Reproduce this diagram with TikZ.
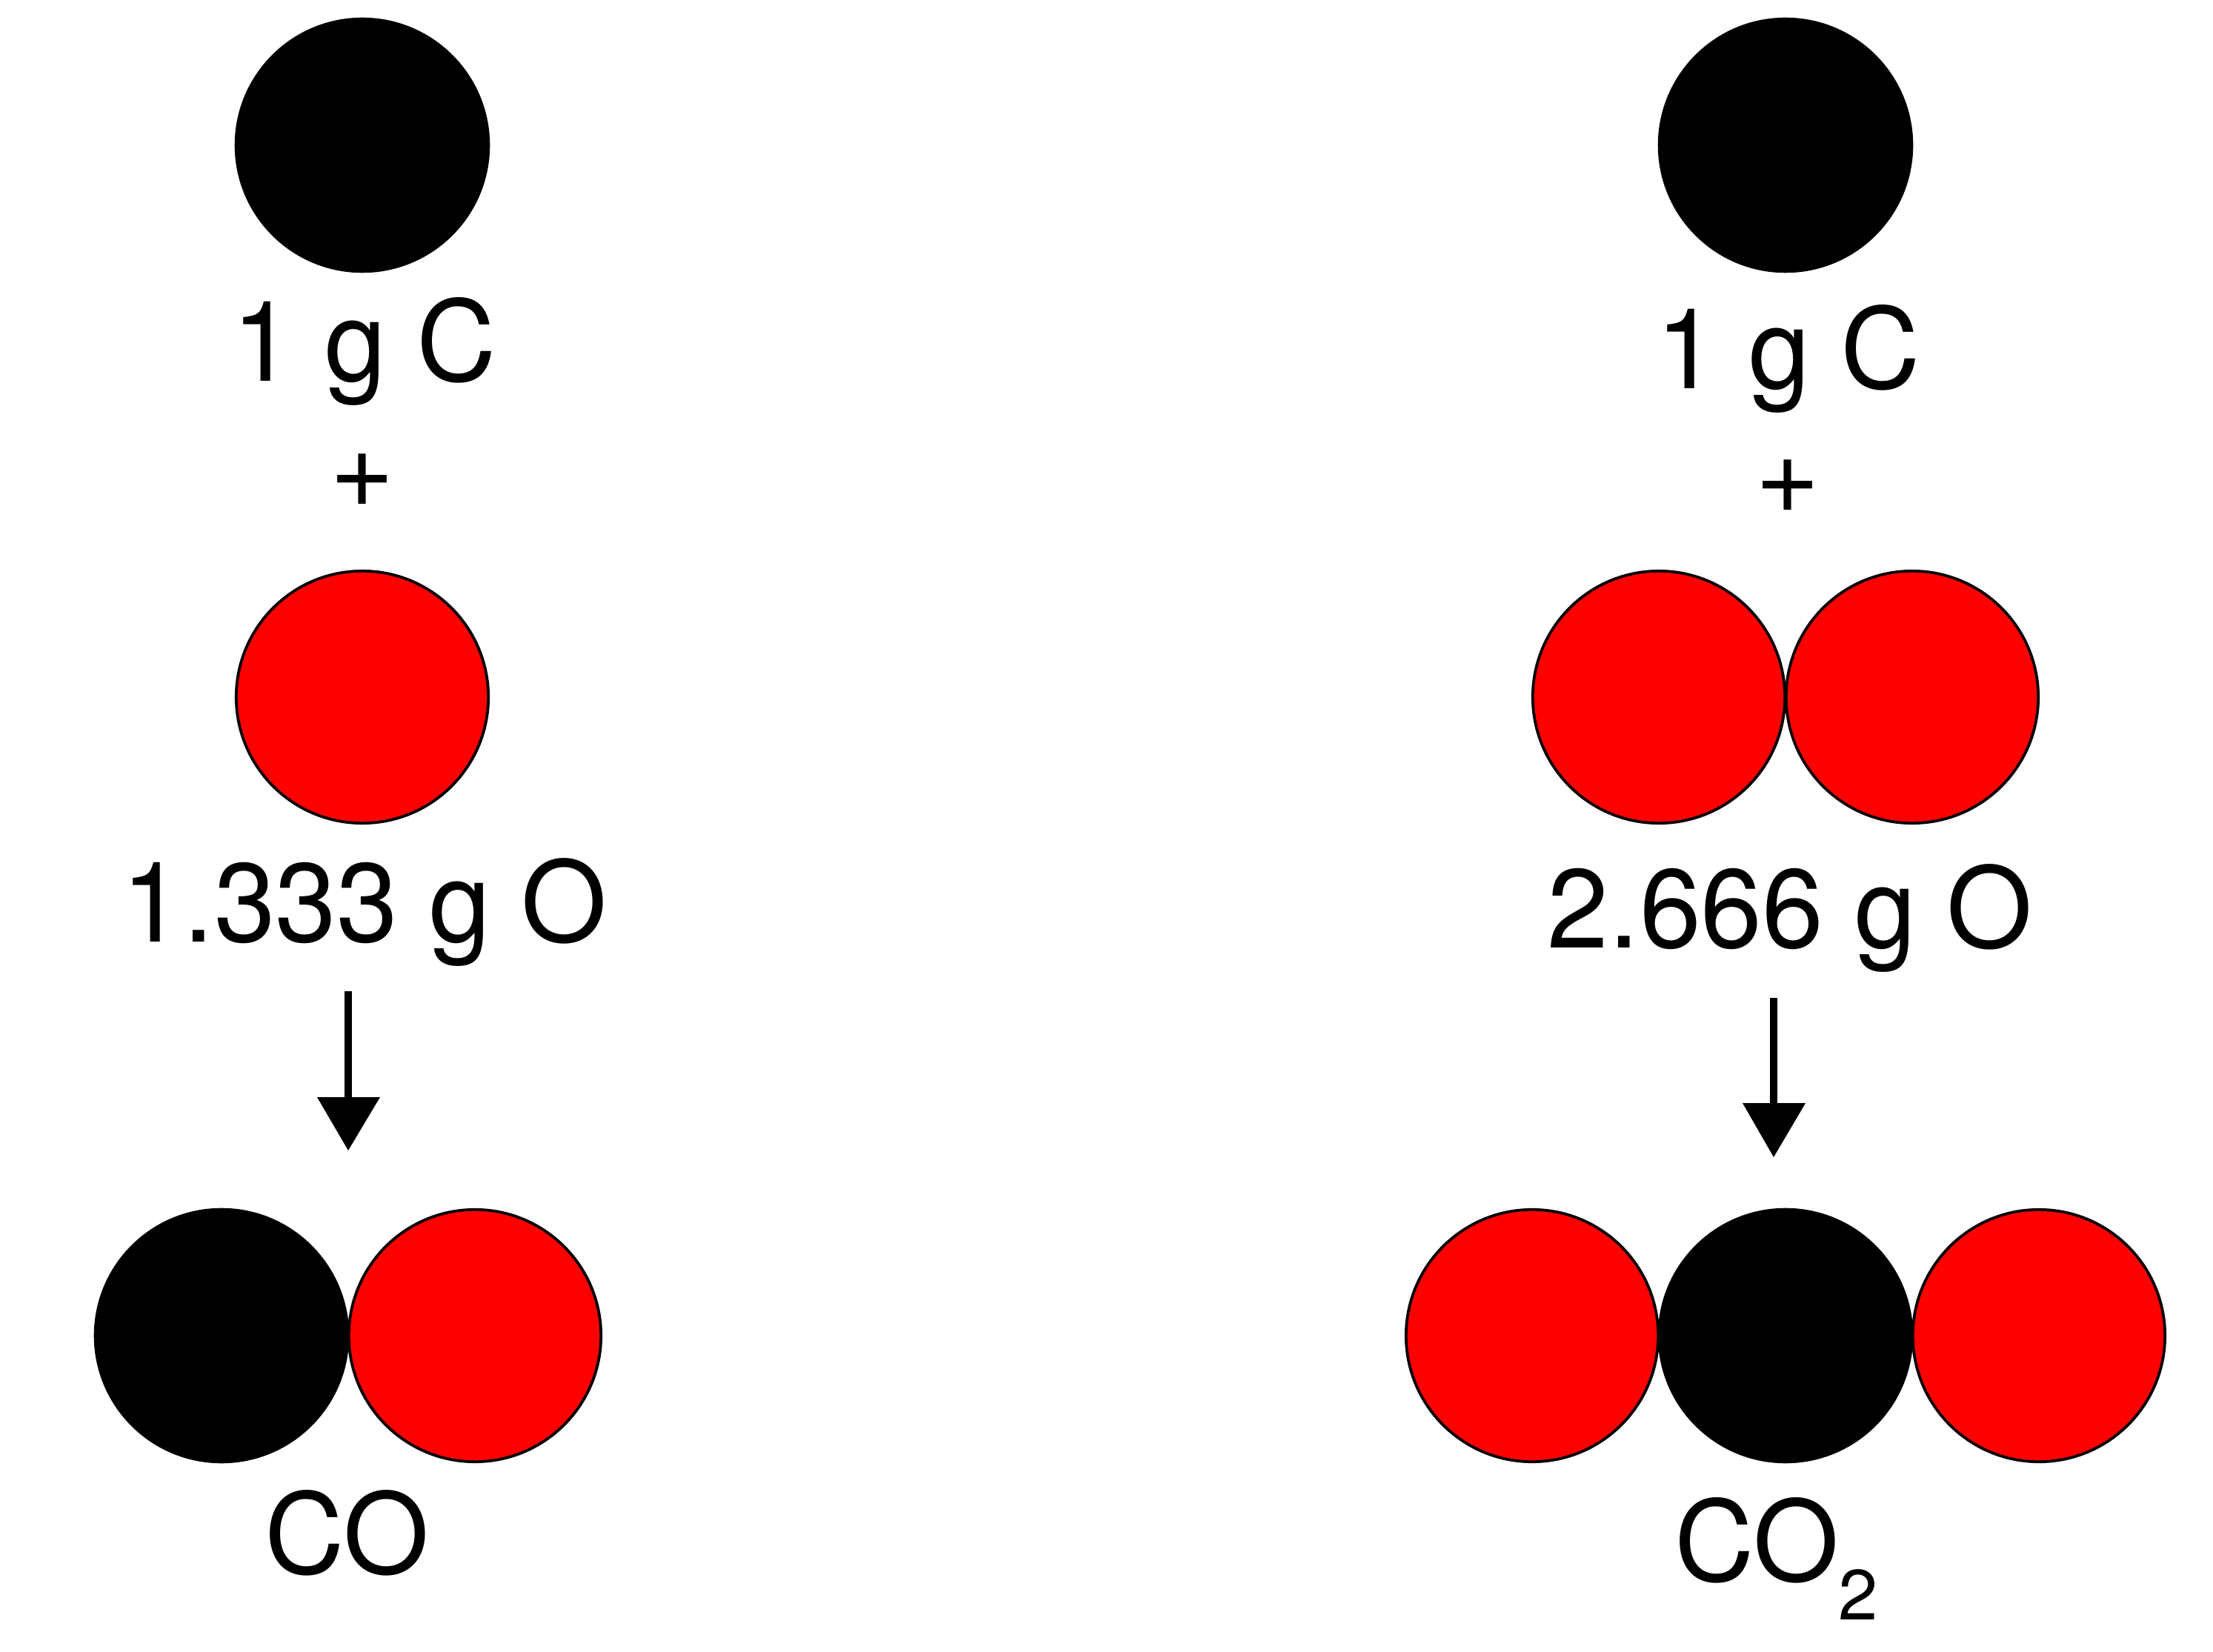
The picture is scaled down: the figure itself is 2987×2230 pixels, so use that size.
\documentclass[tikz,border=0pt]{standalone}
\usepackage{fontspec}
\setmainfont{TeX Gyre Heros}
\begin{document}
\begin{tikzpicture}[x=0.24pt,y=-0.24pt,
  lbl/.style={anchor=base,inner sep=0pt,xscale=0.985,font=\fontsize{36.3}{40}\selectfont},
  sub/.style={anchor=base,inner sep=0pt,font=\fontsize{23}{27}\selectfont},
  blackatom/.style={circle,fill=black,draw=black,line width=0.7pt,minimum size=82pt,inner sep=0pt},
  redatom/.style={circle,fill=red,draw=black,line width=0.9pt,minimum size=81.7pt,inner sep=0pt},
  flow/.style={draw=black,line width=2.3pt}]
\useasboundingbox (0,0) rectangle (2987,2230);
\node[blackatom] (c1) at (489,196) {};
\node[lbl] (t1) at (492,515) {1 g C};
\node[lbl] (p1) at (489,685) {+};
\node[redatom] (o1) at (489,941) {};
\node[lbl] (t2) at (492,1272) {1.333 g O};
\coordinate (a1) at (470,1338);
\coordinate (b1) at (470,1482);
\draw[flow] (a1) -- (b1);
\fill (428,1481) -- (513,1481) -- (470,1553) -- cycle;
\node[blackatom] (c2) at (299,1803) {};
\node[redatom] (o2) at (641,1803) {};
\node[lbl] (t3) at (468,2124) {CO};
\node[blackatom] (c3) at (2410,196) {};
\node[lbl] (t4) at (2414,525) {1 g C};
\node[lbl] (p2) at (2413,693) {+};
\node[redatom] (o3) at (2239,941) {};
\node[redatom] (o4) at (2581,941) {};
\node[lbl] (t5) at (2416,1280) {2.666 g O};
\coordinate (a2) at (2394,1347);
\coordinate (b2) at (2394,1490);
\draw[flow] (a2) -- (b2);
\fill (2352,1489) -- (2437,1489) -- (2394,1562) -- cycle;
\node[redatom] (o5) at (2068,1803) {};
\node[blackatom] (c4) at (2410,1803) {};
\node[redatom] (o6) at (2752,1803) {};
\node[lbl] (t6) at (2371,2134) {CO};
\node[sub] (s6) at (2508,2186) {2};
\end{tikzpicture}
\end{document}
